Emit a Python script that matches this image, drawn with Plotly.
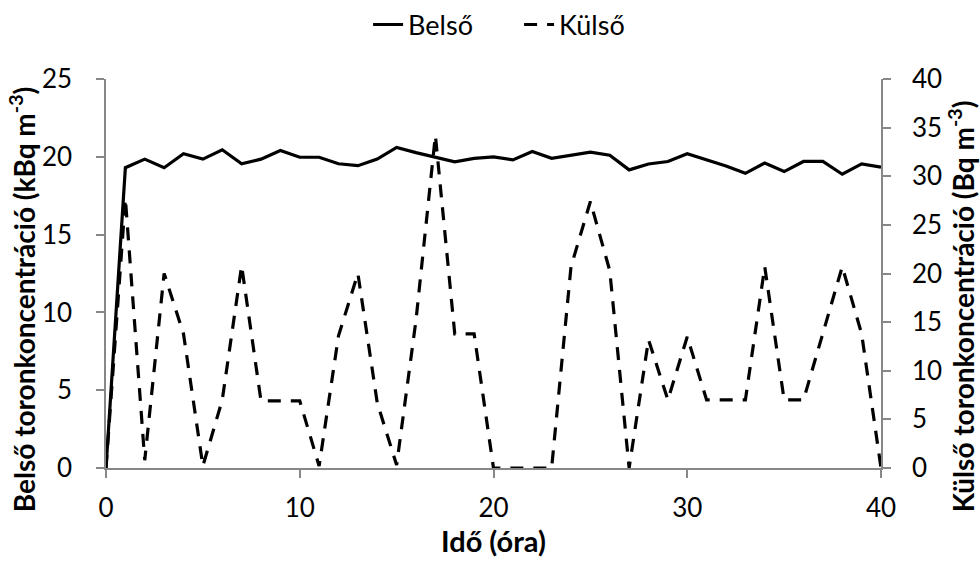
import plotly.graph_objects as go

hours = list(range(0, 41))

# Indoor thoron concentration (kBq m-3), left axis
belso = [0, 19.3, 19.85, 19.3, 20.2, 19.85, 20.45, 19.55, 19.85, 20.4,
         19.97, 19.97, 19.55, 19.43, 19.85, 20.6, 20.27, 19.95, 19.67, 19.9,
         20.0, 19.8, 20.34, 19.9, 20.12, 20.3, 20.1, 19.16, 19.54, 19.7,
         20.2, 19.8, 19.41, 18.94, 19.6, 19.05, 19.7, 19.7, 18.88, 19.54,
         19.33]

# Outdoor thoron concentration (Bq m-3), right axis
kulso = [0, 27.7, 0.8, 20.0, 13.8, 0.2, 7.0, 20.8, 6.9, 6.9,
         6.9, 0.2, 13.6, 20.0, 6.7, 0.3, 15.2, 34.2, 13.8, 13.8,
         0, 0, 0, 0, 20.7, 27.4, 20.3, 0, 13.2, 7.0,
         13.5, 7.0, 7.0, 7.0, 20.7, 7.0, 7.0, 13.8, 20.7, 13.8,
         0]

FONT = "Lato"
AXIS_GREY = "#878787"

fig = go.Figure()
fig.add_trace(go.Scatter(
    x=hours, y=belso, name="Belső", mode="lines",
    line=dict(color="black", width=3.2),
))
fig.add_trace(go.Scatter(
    x=hours, y=kulso, name="Külső", mode="lines", yaxis="y2",
    line=dict(color="black", width=3.2, dash="13px,10px"),
))

tick_font = dict(family=FONT, size=26, color="black")
xtitle_font = dict(family=FONT, size=29, color="black")
ytitle_font = dict(family=FONT, size=28, color="black")

axis_common = dict(
    showgrid=False, zeroline=False,
    showline=True, linecolor=AXIS_GREY, linewidth=1.5,
    ticks="outside", ticklen=8, tickcolor=AXIS_GREY, tickwidth=1.5,
    tickfont=tick_font,
)

fig.update_layout(
    width=980, height=563,
    margin=dict(l=106, r=99, t=79, b=95, autoexpand=False),
    paper_bgcolor="white", plot_bgcolor="white",
    font=dict(family=FONT, color="black"),
    showlegend=True,
    legend=dict(
        orientation="h", x=0.533, xanchor="center", y=1.139, yanchor="middle",
        font=dict(family=FONT, size=27, color="black"),
        entrywidth=106, entrywidthmode="pixels",
        bgcolor="rgba(0,0,0,0)",
    ),
    xaxis=dict(
        range=[0, 40], tickvals=[0, 10, 20, 30, 40],
        ticklabelstandoff=8,
        title=dict(text="<b>Idő (óra)</b>", font=xtitle_font, standoff=6),
        **axis_common,
    ),
    yaxis=dict(
        range=[0, 25], tickvals=[0, 5, 10, 15, 20, 25],
        ticklabelstandoff=19,
        **axis_common,
    ),
    yaxis2=dict(
        range=[0, 40], tickvals=[0, 5, 10, 15, 20, 25, 30, 35, 40],
        overlaying="y", side="right",
        ticklabelstandoff=16,
        **axis_common,
    ),
    annotations=[
        dict(text="<b>Belső toronkoncentráció (kBq m<sup>-3</sup>)</b>",
             xref="paper", yref="paper", x=-0.1084, y=0.434,
             xanchor="center", yanchor="middle", textangle=-90,
             showarrow=False, font=ytitle_font),
        dict(text="<b>Külső toronkoncentráció (Bq m<sup>-3</sup>)</b>",
             xref="paper", yref="paper", x=1.1032, y=0.416,
             xanchor="center", yanchor="middle", textangle=-90,
             showarrow=False, font=ytitle_font),
    ],
)

fig.write_html("out.html")
